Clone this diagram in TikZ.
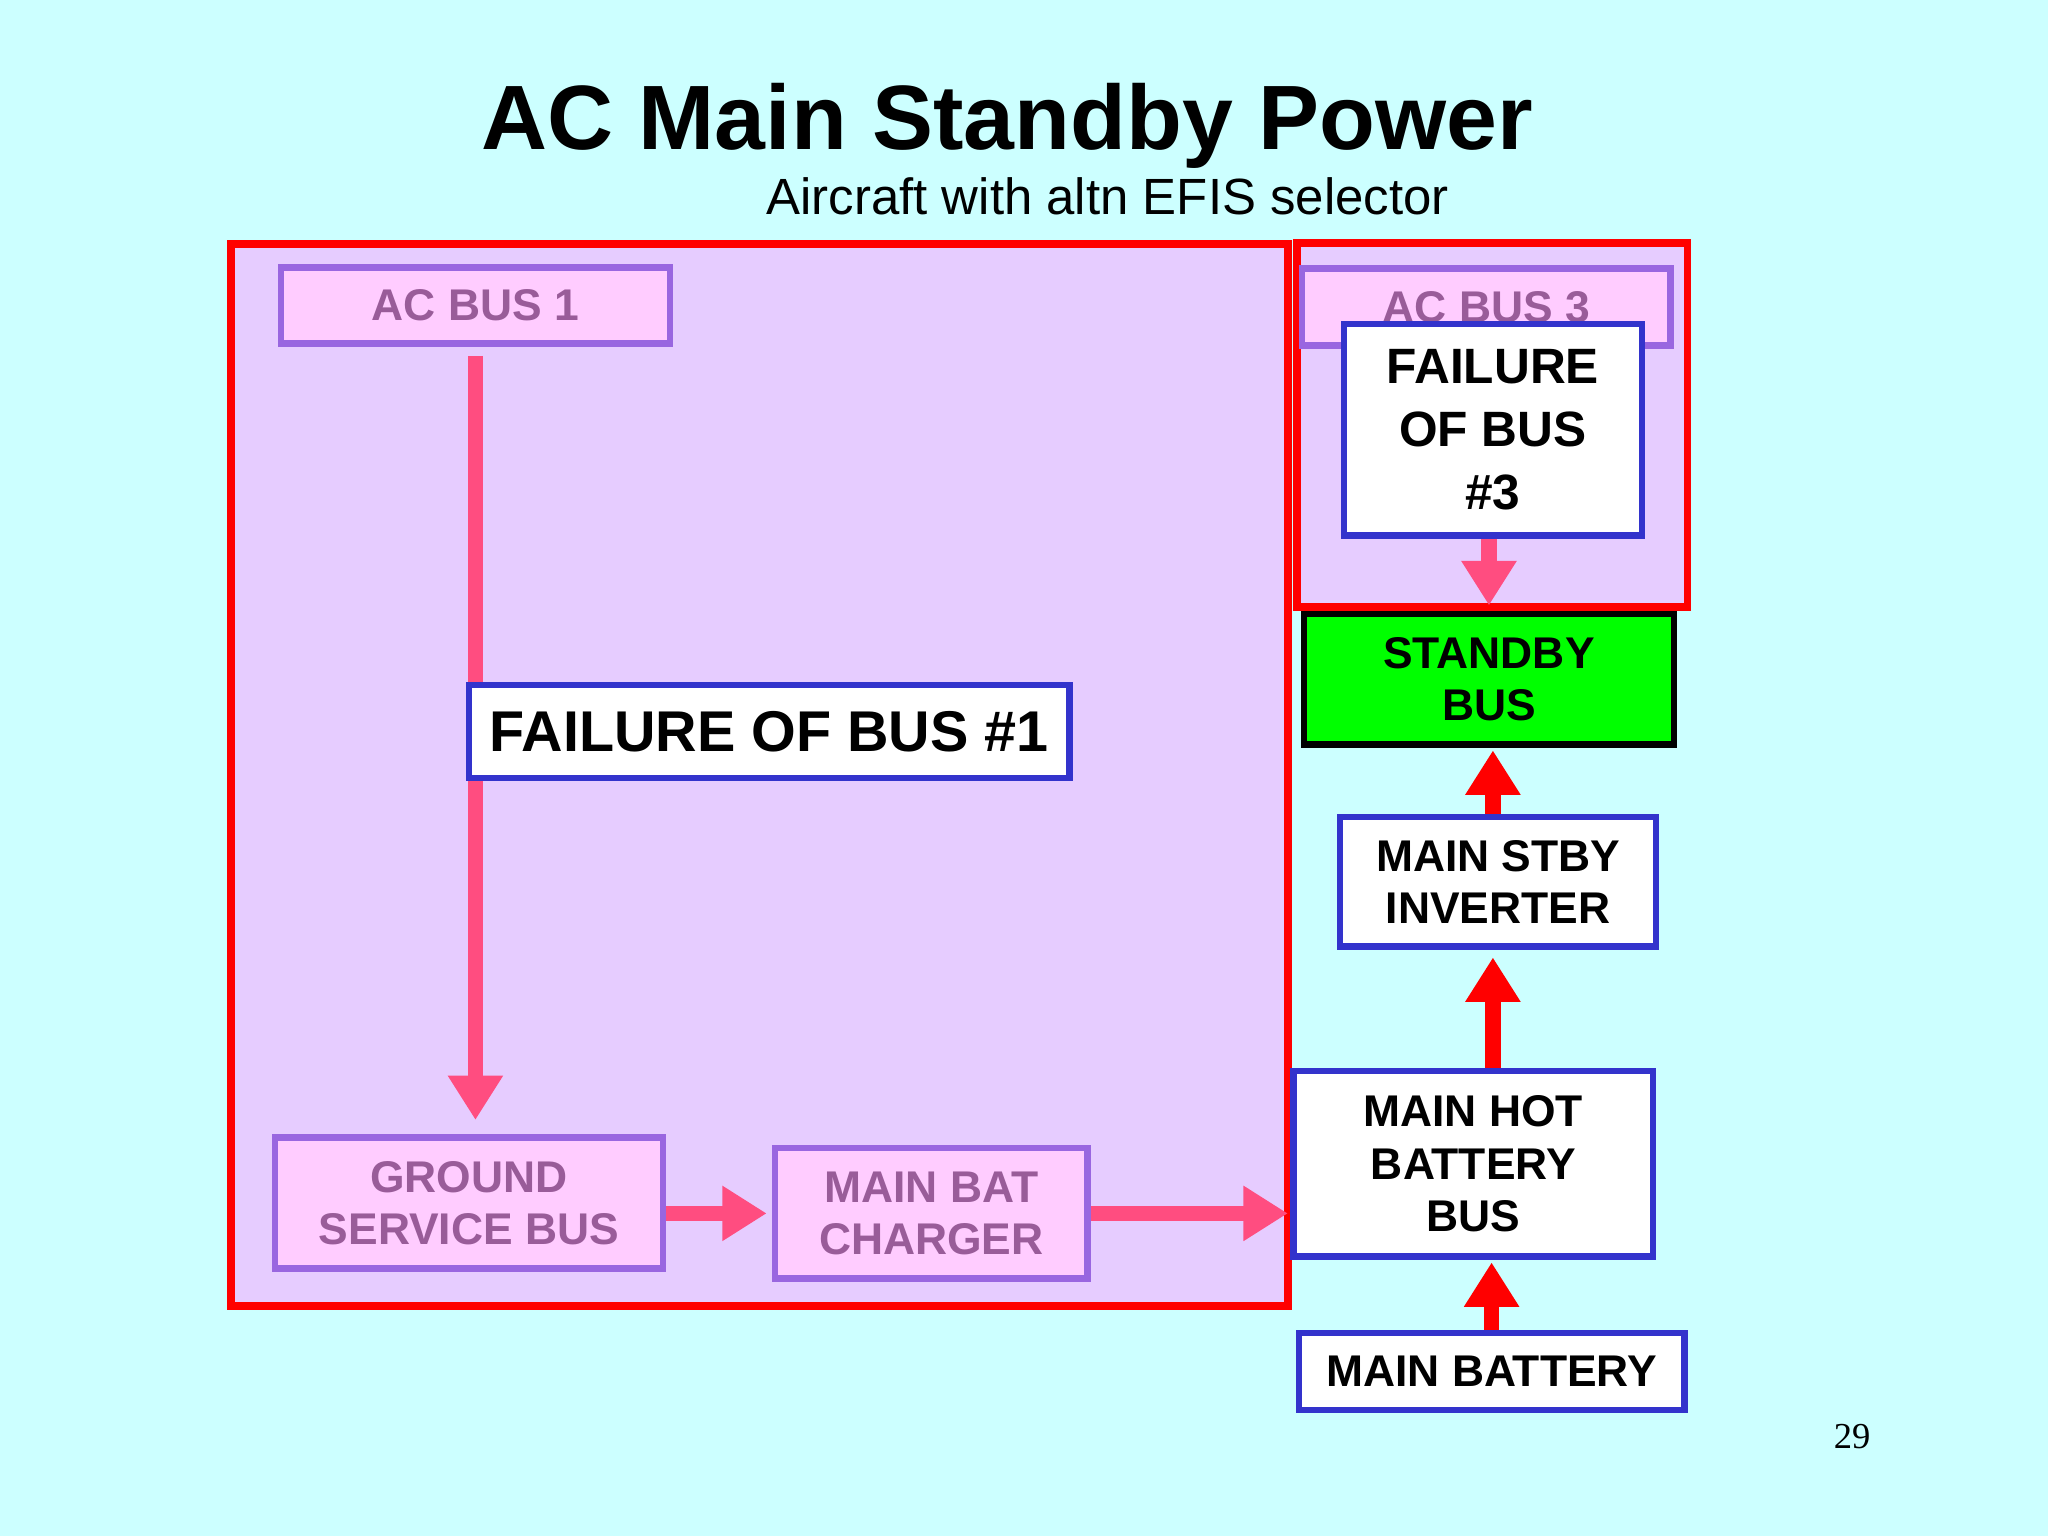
\documentclass[tikz,border=0pt]{standalone}
\usepackage{fontspec}
\setmainfont{Liberation Sans}
\newfontfamily\serifpg{Liberation Serif}
\usetikzlibrary{arrows.meta}
\definecolor{bg}{HTML}{CCFFFF}
\definecolor{lav}{HTML}{E6CCFF}
\definecolor{pinkfill}{HTML}{FFCCFF}
\definecolor{purpb}{HTML}{9966E0}
\definecolor{purpt}{HTML}{995C99}
\definecolor{bluei}{HTML}{3333CC}
\definecolor{pinka}{HTML}{FF4D80}
\tikzset{
  box/.style={draw, line width=2.5pt, inner sep=0pt, align=center, font=\bfseries\fontsize{17}{20}\selectfont},
  oldbox/.style={box, draw=purpb, fill=pinkfill, text=purpt},
  newbox/.style={box, draw=bluei, fill=white, text=black},
  region/.style={draw=red, line width=3pt, fill=lav},
  parrow/.style={pinka, line width=6pt, -{Triangle[width=20pt,length=17pt]}},
  rarrow/.style={red, line width=6pt, -{Triangle[width=20pt,length=17pt]}},
}
\begin{document}
\begin{tikzpicture}[x=0.5pt,y=-0.5pt]
\fill[bg] (0,0) rectangle (1568,1176);
\useasboundingbox (0,0) rectangle (1568,1176);
\node (title) at (771,96) {\bfseries\fontsize{35}{40}\selectfont AC Main Standby Power};
\node (sub) at (848,150) {\fontsize{19.5}{23}\selectfont Aircraft with altn EFIS selector};
\draw[region] (177,187) rectangle (986,1000);
\draw[region] (993,186) rectangle (1292,465);
\node[oldbox, minimum width=149pt, minimum height=29pt] (ac1) at (364,234) {AC BUS 1};
\node[oldbox, minimum width=141pt, minimum height=29.5pt, anchor=north] (ac3) at (1138,203) {AC BUS 3};
\node[newbox, minimum width=114pt, minimum height=81pt, font=\bfseries\fontsize{19}{24}\selectfont] (f3) at (1143,329) {FAILURE\\OF BUS\\\#3};
\node[box, draw=black, fill=green, minimum width=141.5pt, minimum height=50pt] (sb) at (1140,520) {STANDBY\\BUS};
\node[oldbox, minimum width=148.5pt, minimum height=50pt] (gsb) at (359,921) {GROUND\\SERVICE BUS};
\node[oldbox, minimum width=119.5pt, minimum height=50pt] (mbc) at (713,929) {MAIN BAT\\CHARGER};
\node[newbox, minimum width=137.5pt, minimum height=71pt] (mhbb) at (1128,891) {MAIN HOT\\BATTERY\\BUS};
\node[newbox, minimum width=121pt, minimum height=49.5pt] (msi) at (1147,675) {MAIN STBY\\INVERTER};
\node[newbox, minimum width=147.5pt, minimum height=29.5pt] (mb) at (1142,1050) {MAIN BATTERY};
\node (pg) at (1418,1100) {\serifpg\fontsize{14}{16}\selectfont 29};
\draw[parrow, shorten <=3.5pt, shorten >=5.5pt] (ac1.south) -- (ac1.south |- gsb.north);
\draw[parrow, shorten >=2pt] (gsb.east |- mbc.west) -- (mbc.west);
\draw[parrow, shorten >=1pt] (mbc.east) -- (mhbb.west |- mbc.east);
\draw[parrow, shorten >=2pt] (f3.south -| sb.north) -- (sb.north);
\draw[rarrow, shorten >=1pt] (mb.north) -- (mb.north |- mhbb.south);
\draw[rarrow, shorten >=3pt] (mhbb.north -| 1143,0) -- (msi.south -| 1143,0);
\draw[rarrow, shorten >=1pt] (msi.north -| 1143,0) -- (sb.south -| 1143,0);
\node[newbox, minimum width=230pt, minimum height=35.5pt, font=\bfseries\fontsize{22}{26}\selectfont] (f1) at (589,560) {FAILURE OF BUS \#1};
\end{tikzpicture}
\end{document}
